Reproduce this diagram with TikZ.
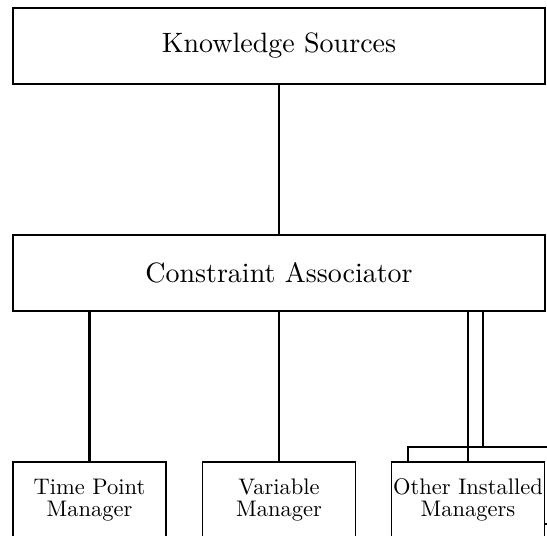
\documentclass[tikz,border=0pt]{standalone}
\usepackage{tikz}
\usepackage{fontspec}
\newfontfamily\tenrm{lmroman10-regular.otf}
\tikzstyle{bigbox}=[draw,line width=1.8pt,minimum width=532pt,minimum height=76pt,inner sep=0pt,font=\tenrm\fontsize{28}{30}\selectfont]
\tikzstyle{smallbox}=[draw,line width=1.8pt,minimum width=153pt,minimum height=76pt,inner sep=0pt,align=center,font=\tenrm\fontsize{22.5}{22}\selectfont]
\tikzstyle{link}=[draw,line width=1.8pt]
\tikzstyle{boldlink}=[draw,line width=2.8pt]

\begin{document}
\begin{tikzpicture}[x=1pt,y=1pt]
	\clip (0,0) rectangle (547,-536);
	\useasboundingbox (0,0) rectangle (547,-536);
	
	\node[bigbox] (ks) at (279,-46) {Knowledge Sources};
	\node[bigbox] (ca) at (279,-273) {Constraint Associator};
	\foreach \pos/\name/\txt in {{(89.5,-500)/tpm/{Time Point\\Manager}},{(279,-500)/vm/{Variable\\Manager}},{(468,-500)/oim/{Other Installed\\Managers}}}
	\node[smallbox] (\name) at \pos {\txt};
	
	\path[link] (ks.south) -- (ca.north);
	\path[boldlink] (ca.south -| tpm.north) -- (tpm.north);
	\path[link] (ca.south -| vm.north) -- (vm.north);
	\path[link] (ca.south -| oim.north) -- (oim.north);
	
	% bus to the other managers
	\path (483,-311) coordinate (b1);
	\path (483,-447) coordinate (b2);
	\path (408,-447) coordinate (b3);
	\path (560,-447) coordinate (b4);
	\path (oim.east |- 0,-524) coordinate (t1);
	\path (560,-524) coordinate (t2);
	\path[link] (b1) -- (b2);
	\path[link] (b4) -- (b3) -- (b3 |- oim.north);
	\path[link] (t1) -- (t2);
\end{tikzpicture}
\end{document}
